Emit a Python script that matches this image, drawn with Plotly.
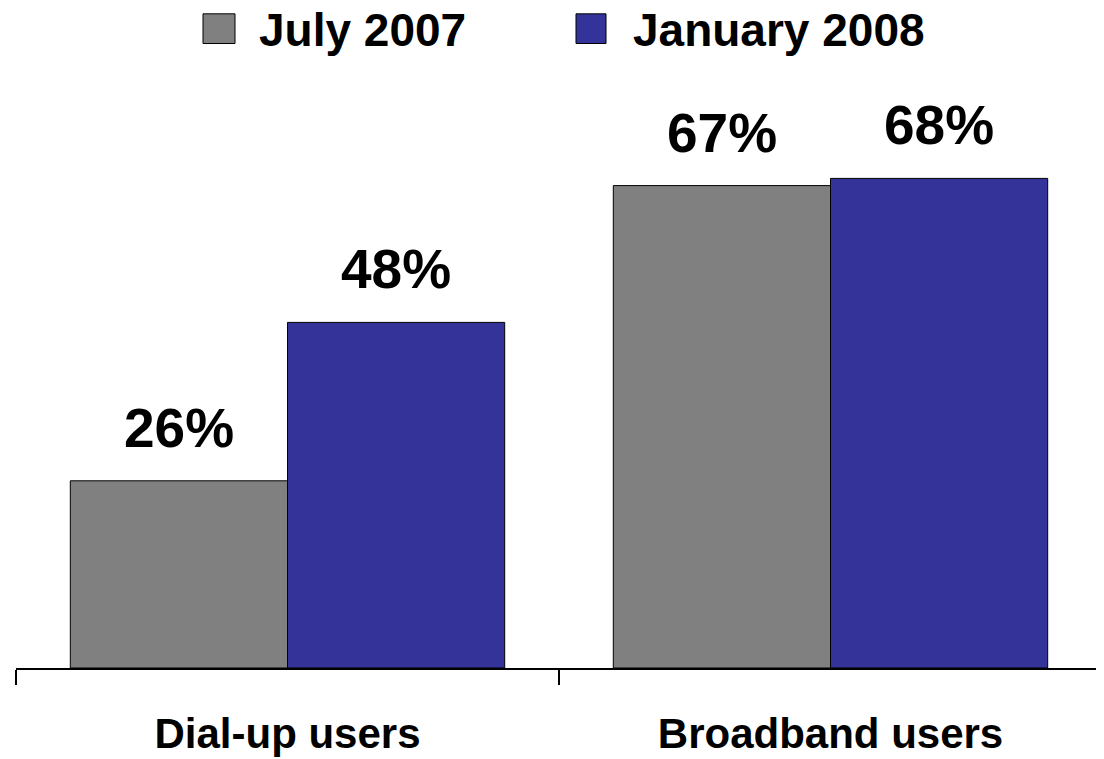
import plotly.graph_objects as go

categories = ["Dial-up users", "Broadband users"]
series_names = ["July 2007", "January 2008"]
july_2007 = [26, 67]
january_2008 = [48, 68]
colors = ["#808080", "#333399"]

# page has an 8px body margin; figure is sized so it fills the 1104x759 window
OFF = 8
W, H = 1104 - OFF, 759 - OFF
ML, MR, MT, MB = 16 - OFF, 2, 92 - OFF, 85
PW, PH = W - ML - MR, H - MT - MB
YMAX = 80

FONT = "Liberation Sans, Arial, sans-serif"

fig = go.Figure()
for name, vals, col in zip(series_names, [july_2007, january_2008], colors):
    fig.add_trace(go.Bar(
        x=categories, y=vals, name=name,
        marker=dict(color=col, line=dict(color="black", width=1)),
        showlegend=False, hoverinfo="x+y+name",
    ))

# value labels
annotations = []
ngroups = len(series_names)
cat_w = PW / len(categories)
bar_w = cat_w * 0.8 / ngroups
for gi, vals in enumerate([july_2007, january_2008]):
    offset = (gi - (ngroups - 1) / 2) * bar_w
    for c, v in zip(categories, vals):
        annotations.append(dict(
            x=c, y=v, xref="x", yref="y", text=f"{v}%", showarrow=False,
            xshift=offset, yshift=53, yanchor="middle",
            font=dict(family=FONT, size=55, color="black", weight="bold"),
        ))

def px2paper_x(px):
    return (px - OFF - ML) / PW

def px2paper_y(py):
    return (H - MB - (py - OFF)) / PH

# manual legend
legend_sq = [(203, 235), (576, 606)]
legend_txt_x = [257, 631]
shapes = []
for (x0, x1), tx, name, col in zip(legend_sq, legend_txt_x, series_names, colors):
    shapes.append(dict(type="rect", xref="paper", yref="paper",
                       x0=px2paper_x(x0), x1=px2paper_x(x1),
                       y0=px2paper_y(43), y1=px2paper_y(13),
                       fillcolor=col, line=dict(color="black", width=1)))
    annotations.append(dict(
        x=px2paper_x(tx), y=px2paper_y(29), xref="paper", yref="paper",
        text=name, showarrow=False, xanchor="left", yanchor="middle",
        font=dict(family=FONT, size=46, color="black", weight="bold"),
    ))

fig.update_layout(
    width=W, height=H,
    margin=dict(l=ML, r=MR, t=MT, b=MB),
    paper_bgcolor="white", plot_bgcolor="white",
    barmode="group", bargap=0.2, bargroupgap=0,
    showlegend=False,
    annotations=annotations, shapes=shapes,
    xaxis=dict(
        type="category", showline=True, linecolor="black", linewidth=2,
        ticks="outside", ticklen=15, tickwidth=2, tickcolor="black",
        tickson="boundaries", showgrid=False, zeroline=False,
        tickfont=dict(family=FONT, size=42, color="black", weight="bold"),
        ticklabelstandoff=28,
    ),
    yaxis=dict(range=[0, YMAX], visible=False, showgrid=False, zeroline=False),
)

fig.write_html("out.html", config={"displayModeBar": False})
